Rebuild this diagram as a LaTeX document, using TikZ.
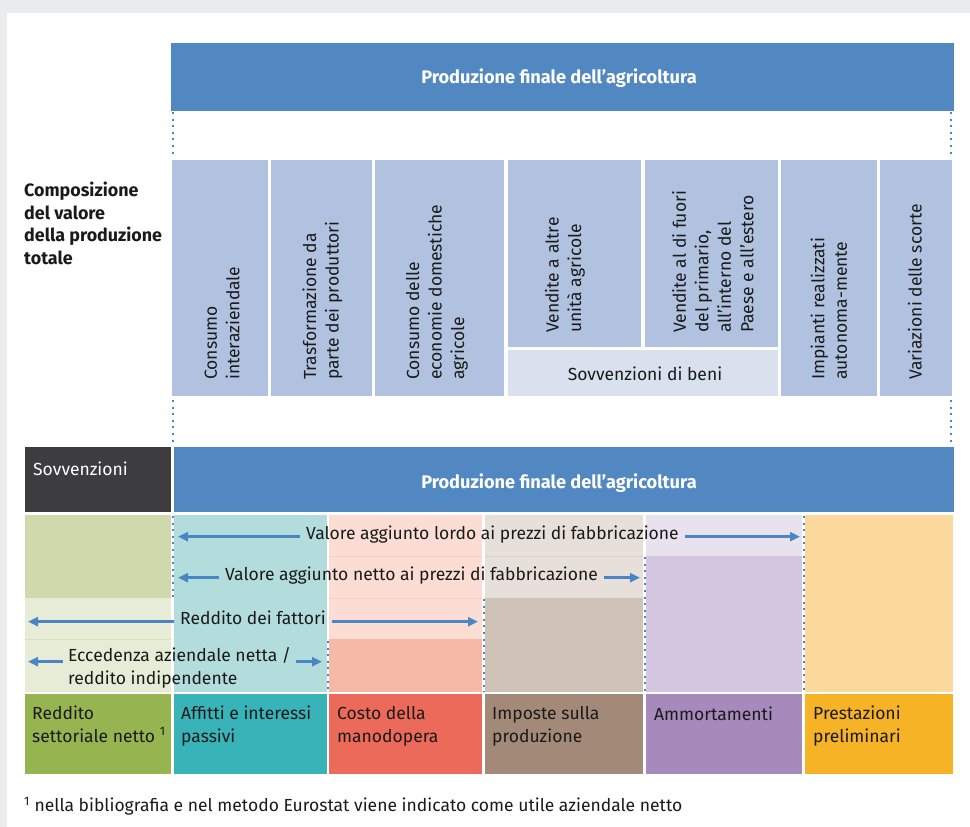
\documentclass[tikz,border=0pt]{standalone}
\usepackage{fontspec}
\setmainfont{Fira Sans}
\usetikzlibrary{arrows.meta}
\definecolor{bggrey}{HTML}{EBECED}
\definecolor{barblue}{HTML}{5288C1}
\definecolor{colblue}{HTML}{B0C2DF}
\definecolor{colpale}{HTML}{D9E0EE}
\definecolor{darkbox}{HTML}{3D3D3F}
\definecolor{arrc}{HTML}{4A86C5}
\definecolor{textc}{HTML}{1A1A1A}
\definecolor{grnL}{HTML}{CFD9AC}
\definecolor{grnLL}{HTML}{E6ECD6}
\definecolor{tealL}{HTML}{B3DCDC}
\definecolor{salL}{HTML}{FBDDD3}
\definecolor{salD}{HTML}{F7B9A7}
\definecolor{brnL}{HTML}{E6DFDA}
\definecolor{brnD}{HTML}{CFC2B7}
\definecolor{lilL}{HTML}{E8E2EE}
\definecolor{lilD}{HTML}{D4C6E0}
\definecolor{yelL}{HTML}{FBD89B}
\definecolor{grnB}{HTML}{96B551}
\definecolor{tealB}{HTML}{38B4B8}
\definecolor{salB}{HTML}{EC6A5A}
\definecolor{brnB}{HTML}{A38A78}
\definecolor{lilB}{HTML}{A68ABC}
\definecolor{yelB}{HTML}{F6B326}
\newcommand{\fsreg}{\fontsize{17.5}{22.5}\selectfont}
\newcommand{\fsbold}{\fontsize{17.9}{22.4}\selectfont\bfseries}
\newcommand{\fstitle}{\fontsize{18.2}{22}\selectfont\bfseries}
\tikzset{
  lbl/.style={font=\fsreg, inner sep=0pt, text=textc, align=left},
  vtext/.style={lbl, rotate=90, anchor=west},
  title/.style={font=\fstitle, inner sep=0pt, text=white},
  arrtext/.style={lbl, inner xsep=6pt, anchor=mid west},
  arr/.style={-{Triangle[length=10pt,width=9pt]}, line width=2.6pt, draw=arrc},
  dots/.style={draw=arrc, line width=2pt, dash pattern=on 2pt off 4.6pt},
  faint/.style={line width=0.6pt}
}
\begin{document}
\begin{tikzpicture}[x=1pt,y=-1pt]
\useasboundingbox (0,0) rectangle (970,827);
\fill[bggrey] (0,0) rectangle (970,827);
\fill[white] (7,13) rectangle (970,827);

% top bar
\fill[barblue] (171,43) rectangle (954,110.7);
\node[title, anchor=base] (top) at (559,83) {Produzione finale dell’agricoltura};
\draw[dots] (172.5,112) -- (172.5,157);
\draw[dots] (951,112) -- (951,157);
\draw[dots] (172.5,400) -- (172.5,446);
\draw[dots] (951,400) -- (951,446);

% left label (base anchor = last line baseline)
\node[lbl, font=\fsbold, anchor=base west] (comp) at (24,264) {Composizione\\del valore\\della produzione\\totale};

% columns
\fill[colblue] (172,160) rectangle (268,396);
\fill[colblue] (271,160) rectangle (372,396);
\fill[colblue] (375,160) rectangle (504,396);
\fill[colblue] (508,160) rectangle (641,347);
\fill[colblue] (645,160) rectangle (778,347);
\fill[colpale] (508,350) rectangle (778,396);
\fill[colblue] (781,160) rectangle (877,396);
\fill[colblue] (880,160) rectangle (952,396);

\node[vtext] (c1) at (222,380) {Consumo\\interaziendale};
\node[vtext] (c2) at (322.5,380) {Trasformazione da\\parte dei produttori};
\node[vtext] (c3) at (437,380) {Consumo delle\\economie domestiche\\agricole};
\node[vtext] (c4) at (565,333) {Vendite a altre\\unità agricole};
\node[vtext] (c5) at (713,333) {Vendite al di fuori\\del primario,\\all’interno del\\Paese e all’estero};
\node[vtext] (c6) at (829,380) {Impianti realizzati\\autonoma-mente};
\node[vtext] (c7) at (915,380) {Variazioni delle scorte};
\node[lbl, anchor=base] (sb) at (645,380) {Sovvenzioni di beni};

% second bar
\fill[darkbox] (25,447) rectangle (171,511.7);
\node[lbl, text=white, anchor=base west] (sov) at (33,475) {Sovvenzioni};
\fill[barblue] (174,447) rectangle (954,511.7);
\node[title, anchor=base] (bot) at (559,488) {Produzione finale dell’agricoltura};

% middle area
\fill[grnL] (25,515) rectangle (171,598);
\fill[grnLL] (25,598) rectangle (171,692);
\fill[tealL] (174,515) rectangle (327,692);
\fill[salL] (329,515) rectangle (482,639);
\fill[salD] (329,639) rectangle (482,692);
\fill[brnL] (485,515) rectangle (643,598);
\fill[brnD] (485,598) rectangle (643,692);
\fill[lilL] (646,515) rectangle (802,556);
\fill[lilD] (646,556) rectangle (802,692);
\fill[yelL] (805,515) rectangle (953,692);
\draw[faint, draw=grnL!60!grnLL] (25,639) -- (171,639);
\draw[faint, draw=salD!40!salL] (329,556) -- (482,556);
\draw[faint, draw=salD!40!salL] (329,598) -- (482,598);
\draw[faint, draw=brnD!40!brnL] (485,556) -- (643,556);

\draw[dots] (172.5,516) -- (172.5,598);
\draw[dots] (328,641) -- (328,692);
\draw[dots] (483.5,599) -- (483.5,692);
\draw[dots] (644.5,557) -- (644.5,692);
\draw[dots] (803.5,516) -- (803.5,692);

% arrows
\coordinate (l1) at (178,536.7);
\coordinate (r1) at (800,536.7);
\node[arrtext] (t1) at (300,536.7) {Valore aggiunto lordo ai prezzi di fabbricazione};
\draw[arr] (t1.mid west) -- (l1);
\draw[arr] (t1.mid east) -- (r1);

\coordinate (l2) at (178,577.7);
\coordinate (r2) at (640,577.7);
\node[arrtext] (t2) at (219,577.7) {Valore aggiunto netto ai prezzi di fabbricazione};
\draw[arr] (t2.mid west) -- (l2);
\draw[arr] (t2.mid east) -- (r2);

\coordinate (l3) at (28,621.7);
\coordinate (r3) at (478,621.7);
\node[arrtext] (t3) at (174,621.7) {Reddito dei fattori};
\draw[arr] (t3.mid west) -- (l3);
\draw[arr] (t3.mid east) -- (r3);

\coordinate (l4) at (28,661.7);
\coordinate (r4) at (322,661.7);
\node[lbl, inner xsep=5pt, anchor=base west] (t4) at (63,684) {Eccedenza aziendale netta /\\reddito indipendente};
\draw[arr] (t4.west |- l4) -- (l4);
\draw[arr] (t4.east |- r4) -- (r4);

% bottom boxes
\fill[grnB] (25,694) rectangle (171,774);
\fill[tealB] (174,694) rectangle (327,774);
\fill[salB] (329,694) rectangle (482,774);
\fill[brnB] (485,694) rectangle (643,774);
\fill[lilB] (646,694) rectangle (802,774);
\fill[yelB] (805,694) rectangle (953,774);
\node[lbl, anchor=base west] (b1) at (32,742) {Reddito\\settoriale netto \textsuperscript{1}};
\node[lbl, anchor=base west] (b2) at (181,742) {Affitti e interessi\\passivi};
\node[lbl, anchor=base west] (b3) at (337,742) {Costo della\\manodopera};
\node[lbl, anchor=base west] (b4) at (492,742) {Imposte sulla\\produzione};
\node[lbl, anchor=base west] (b5) at (654,720) {Ammortamenti};
\node[lbl, anchor=base west] (b6) at (813,742) {Prestazioni\\preliminari};

% footnote
\node[lbl, anchor=base west] (fn) at (24,811.7) {\textsuperscript{1} nella bibliografia e nel metodo Eurostat viene indicato come utile aziendale netto};
\end{tikzpicture}
\end{document}
